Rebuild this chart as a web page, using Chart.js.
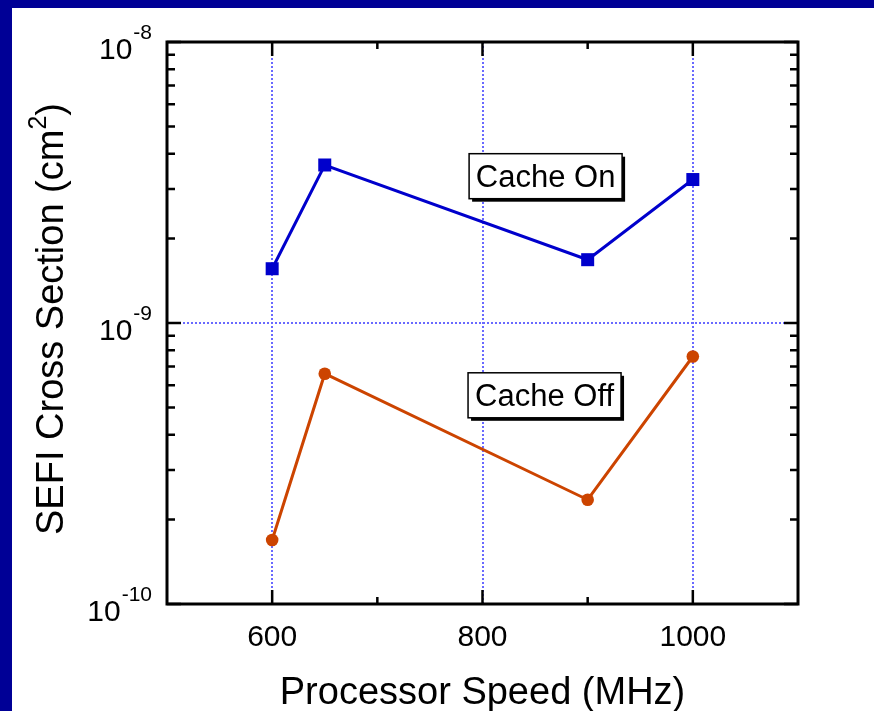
<!DOCTYPE html>
<html>
<head>
<meta charset="utf-8">
<script src="https://cdn.jsdelivr.net/npm/chart.js@4.4.1/dist/chart.umd.min.js"></script>
<style>
  body { margin: 0; background: #000096; width: 874px; height: 711px; overflow: hidden; }
  #wrap { position: absolute; left: 12px; top: 8px; width: 862px; height: 703px; background: #fff; }
</style>
</head>
<body>
<div id="wrap"><canvas id="chart" width="862" height="703"></canvas></div>
<script>
// processor speeds (MHz)
const speeds = [600, 650, 900, 1000];
// SEFI cross section (cm^2)
const cacheOn = [1.56e-9, 3.65e-9, 1.68e-9, 3.24e-9];
const cacheOff = [1.69e-10, 6.6e-10, 2.35e-10, 7.6e-10];

const xMajor = [600, 800, 1000];
const xMinor = [700, 900];
const yMajor = [1e-10, 1e-9, 1e-8];
const yExponents = ["-10", "-9", "-8"];

const FONT = '"Liberation Sans", Arial, sans-serif';
const gridBlue = "rgb(105, 105, 255)";

// labels inside the plot, in data units
const notes = [
    { text: "Cache On", x: 860, y: 3.33e-9 },
    { text: "Cache Off", x: 859, y: 5.53e-10 }
];

function toPoints(ys) {
    return speeds.map((s, i) => ({ x: s, y: ys[i] }));
}

const decor = {
    id: "decor",
    afterDraw(chart) {
        const ctx = chart.ctx;
        const xs = chart.scales.x;
        const ys = chart.scales.y;
        const a = chart.chartArea;
        ctx.save();

        // frame
        ctx.strokeStyle = "#000";
        ctx.lineWidth = 3;
        ctx.strokeRect(a.left, a.top, a.right - a.left, a.bottom - a.top);

        // inward ticks
        ctx.lineWidth = 2.5;
        ctx.beginPath();
        xMajor.concat(xMinor).forEach(v => {
            const len = xMajor.includes(v) ? 14 : 7;
            const px = xs.getPixelForValue(v);
            ctx.moveTo(px, a.bottom); ctx.lineTo(px, a.bottom - len);
            ctx.moveTo(px, a.top); ctx.lineTo(px, a.top + len);
        });
        for (let d = 0; d < 2; d++) {
            for (let m = 1; m <= 10; m++) {
                const v = m * yMajor[d];
                const len = (m === 1 || m === 10) ? 14 : 8;
                const py = ys.getPixelForValue(v);
                ctx.moveTo(a.left, py); ctx.lineTo(a.left + len, py);
                ctx.moveTo(a.right, py); ctx.lineTo(a.right - len, py);
            }
        }
        ctx.stroke();

        // x tick labels
        ctx.fillStyle = "#000";
        ctx.font = "30px " + FONT;
        ctx.textAlign = "center";
        ctx.textBaseline = "alphabetic";
        xMajor.forEach(v => {
            ctx.fillText(String(v), xs.getPixelForValue(v), a.bottom + 42);
        });

        // y tick labels 10^n
        ctx.textAlign = "right";
        yMajor.forEach((v, i) => {
            const py = ys.getPixelForValue(v);
            ctx.font = "21px " + FONT;
            const w = ctx.measureText(yExponents[i]).width;
            ctx.fillText(yExponents[i], a.left - 15, py - 3);
            ctx.font = "30px " + FONT;
            ctx.fillText("10", a.left - 16 - w, py + 17);
        });

        // axis titles
        ctx.textAlign = "center";
        ctx.font = "38px " + FONT;
        ctx.fillText("Processor Speed (MHz)", (a.left + a.right) / 2, a.bottom + 100);

        ctx.save();
        ctx.translate(51, 311);
        ctx.rotate(-Math.PI / 2);
        ctx.textAlign = "left";
        const main = "SEFI Cross Section (cm";
        ctx.font = "38px " + FONT;
        const w1 = ctx.measureText(main).width;
        const w3 = ctx.measureText(")").width;
        ctx.font = "25px " + FONT;
        const w2 = ctx.measureText("2").width;
        let x0 = -(w1 + w2 + w3) / 2;
        ctx.font = "38px " + FONT;
        ctx.fillText(main, x0, 0);
        ctx.font = "25px " + FONT;
        ctx.fillText("2", x0 + w1, -17);
        ctx.font = "38px " + FONT;
        ctx.fillText(")", x0 + w1 + w2, 0);
        ctx.restore();

        // boxed notes
        ctx.font = "31px " + FONT;
        ctx.textAlign = "center";
        notes.forEach(n => {
            const cx = xs.getPixelForValue(n.x);
            const cy = ys.getPixelForValue(n.y);
            const bw = 153, bh = 45;
            ctx.fillStyle = "#000";
            ctx.fillRect(cx - bw / 2 + 3, cy - bh / 2 + 3, bw, bh);
            ctx.fillStyle = "#fff";
            ctx.fillRect(cx - bw / 2, cy - bh / 2, bw, bh);
            ctx.lineWidth = 1.5;
            ctx.strokeStyle = "#000";
            ctx.strokeRect(cx - bw / 2, cy - bh / 2, bw, bh);
            ctx.fillStyle = "#000";
            ctx.fillText(n.text, cx, cy + 11);
        });

        ctx.restore();
    }
};

new Chart(document.getElementById("chart"), {
    type: "line",
    data: {
        datasets: [
            {
                label: "Cache On",
                data: toPoints(cacheOn),
                borderColor: "rgb(0, 0, 204)",
                backgroundColor: "rgb(0, 0, 204)",
                borderWidth: 3,
                pointStyle: "rect",
                pointRadius: 9.2,
                pointBorderWidth: 0,
                tension: 0
            },
            {
                label: "Cache Off",
                data: toPoints(cacheOff),
                borderColor: "rgb(204, 68, 0)",
                backgroundColor: "rgb(204, 68, 0)",
                borderWidth: 3,
                pointStyle: "circle",
                pointRadius: 6.3,
                pointBorderWidth: 0,
                tension: 0
            }
        ]
    },
    options: {
        responsive: false,
        animation: false,
        devicePixelRatio: 1,
        layout: { padding: { left: 155, right: 76, top: 34, bottom: 107 } },
        plugins: { legend: { display: false }, tooltip: { enabled: false } },
        scales: {
            x: {
                type: "linear",
                min: 500,
                max: 1100,
                ticks: { display: false, stepSize: 100 },
                grid: {
                    drawTicks: false,
                    lineWidth: 2,
                    color: c => xMajor.includes(c.tick.value) ? gridBlue : "transparent"
                },
                border: { display: false, dash: [2, 2] },
                afterFit: s => { s.height = 0; }
            },
            y: {
                type: "logarithmic",
                min: 1e-10,
                max: 1e-8,
                ticks: { display: false },
                grid: {
                    drawTicks: false,
                    lineWidth: 2,
                    color: c => Math.abs(c.tick.value - 1e-9) < 1e-13 ? gridBlue : "transparent"
                },
                border: { display: false, dash: [2, 2] },
                afterFit: s => { s.width = 0; }
            }
        }
    },
    plugins: [decor]
});
</script>
</body>
</html>
